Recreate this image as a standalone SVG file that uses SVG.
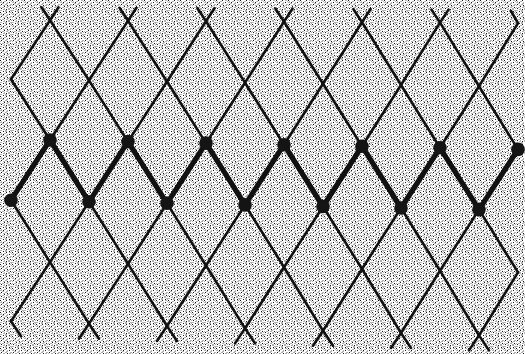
<svg xmlns="http://www.w3.org/2000/svg" width="525" height="354" viewBox="0 0 525 354">
<defs>
<pattern id="stipple" patternUnits="userSpaceOnUse" width="12" height="12">
<rect width="12" height="12" fill="#ffffff"/>
<path shape-rendering="crispEdges" fill="#b0b0b0" d="M9 0h2v1h-2z M4 1h2v1h-2z M0 2h2v1h-2z M6 3h2v1h-2z M10 4h2v1h-2z M3 5h2v1h-2z M6 7h2v1h-2z M0 7h1v1h-1z M8 8h2v1h-2z M3 9h2v1h-2z M10 10h2v1h-2z M5 11h2v1h-2z M1 1h1v1h-1z M11 1h1v1h-1z M7 2h1v1h-1z M2 3h2v1h-2z M5 4h2v1h-2z M9 5h2v1h-2z M0 5h1v1h-1z M7 6h2v1h-2z M2 7h2v1h-2z M11 8h1v1h-1z M4 8h1v1h-1z M8 9h2v1h-2z M0 10h2v1h-2z M5 10h2v1h-2z M11 11h1v1h-1z"/>
<path shape-rendering="crispEdges" fill="#161616" d="M0 0h1v1h-1z M6 0h1v1h-1z M3 2h1v1h-1z M9 2h1v1h-1z M1 4h1v1h-1z M7 5h1v1h-1z M4 6h1v1h-1z M10 7h1v1h-1z M1 8h1v1h-1z M6 9h1v1h-1z M3 11h1v1h-1z M9 11h1v1h-1z"/>
</pattern>
<style>
.thin{fill:none;stroke:#111;stroke-width:2.6;stroke-linejoin:miter;stroke-linecap:round}
.thick{fill:none;stroke:#111;stroke-width:5.2;stroke-linejoin:round;stroke-linecap:round}
.dot{fill:#141414}
</style>
</defs>
<rect width="525" height="354" fill="url(#stipple)"/>
<g id="connectors">
<polyline class="thin" points="11,79.2 50,20.3 89,80.3 128,20.8 167,81.5 206,21.2 245,82.7 284,21.7 323,83.8 362,22.2 401,85 440,22.6 479,86.2 518,23.1"/>
<polyline class="thin" points="11,79.2 50,140 89,80.3 128,141.6 167,81.5 206,143.1 245,82.7 284,144.7 323,83.8 362,146.2 401,85 440,147.8 479,86.2 518,149.4"/>
<polyline class="thin" points="11,200.2 50,262.1 89,201.8 128,263.8 167,203.3 206,265.5 245,204.9 284,267.2 323,206.5 362,269 401,208 440,270.7 479,209.6 518,272.4"/>
<polyline class="thin" points="11,321.3 50,262.1 89,323.7 128,263.8 167,326 206,265.5 245,328.4 284,267.2 323,330.7 362,269 401,333 440,270.7 479,335.4 518,272.4"/>
<path class="thin" d="M41.5,7.3 L50,20.3 L58.5,7.3 M119.5,7.8 L128,20.8 L136.5,7.8 M197.5,8.2 L206,21.2 L214.5,8.2 M275.5,8.7 L284,21.7 L292.5,8.7 M353.5,9.2 L362,22.2 L370.5,9.2 M431.5,9.6 L440,22.6 L448.5,9.6 M511,11 L518,23.1"/>
<path class="thin" d="M11,321.3 L21,336.3 M79,338.7 L89,323.7 L99,338.7 M157,341 L167,326 L177,341 M235,343.4 L245,328.4 L255,343.4 M313,345.7 L323,330.7 L333,345.7 M391,348 L401,333 L411,348 M469,350.4 L479,335.4 L489,350.4"/>
<polyline class="thick" points="11,200.2 50,140 89,201.8 128,141.6 167,203.3 206,143.1 245,204.9 284,144.7 323,206.5 362,146.2 401,208 440,147.8 479,209.6 518,149.4"/>
</g>
<g id="n1"><circle class="dot" cx="11" cy="200.2" r="6.8"/></g>
<g id="n2"><circle class="dot" cx="50" cy="140" r="6.8"/></g>
<g id="n3"><circle class="dot" cx="89" cy="201.8" r="6.8"/></g>
<g id="n4"><circle class="dot" cx="128" cy="141.6" r="6.8"/></g>
<g id="n5"><circle class="dot" cx="167" cy="203.3" r="6.8"/></g>
<g id="n6"><circle class="dot" cx="206" cy="143.1" r="6.8"/></g>
<g id="n7"><circle class="dot" cx="245" cy="204.9" r="6.8"/></g>
<g id="n8"><circle class="dot" cx="284" cy="144.7" r="6.8"/></g>
<g id="n9"><circle class="dot" cx="323" cy="206.5" r="6.8"/></g>
<g id="n10"><circle class="dot" cx="362" cy="146.2" r="6.8"/></g>
<g id="n11"><circle class="dot" cx="401" cy="208" r="6.8"/></g>
<g id="n12"><circle class="dot" cx="440" cy="147.8" r="6.8"/></g>
<g id="n13"><circle class="dot" cx="479" cy="209.6" r="6.8"/></g>
<g id="n14"><circle class="dot" cx="518" cy="149.4" r="6.8"/></g>
</svg>
